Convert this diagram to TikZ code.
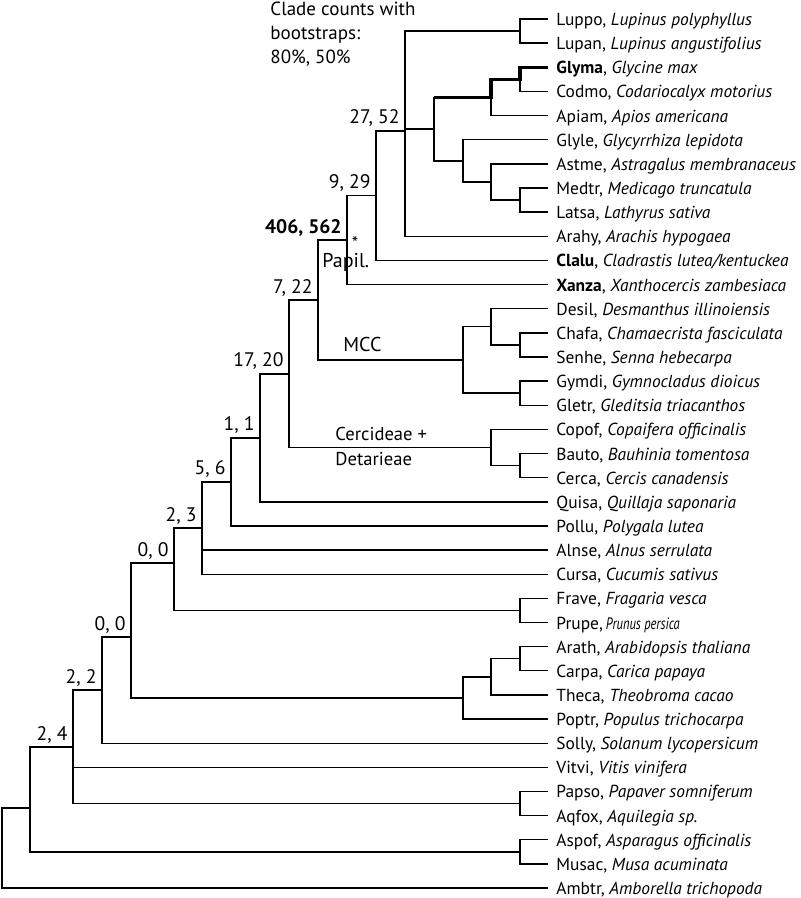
\documentclass[tikz,border=0pt]{standalone}
\usepackage{fontspec}
\setmainfont{PT Sans}
\tikzset{
  branch/.style={line width=0.7pt},
  hilite/.style={line width=1.6pt},
  leaf/.style={anchor=west,inner xsep=4pt,inner ysep=0pt,
    text height=6.5pt,text depth=0pt,font=\fontsize{8.7}{10}\selectfont},
  count/.style={anchor=base east,inner sep=0pt,font=\fontsize{9.8}{11}\selectfont},
  cladename/.style={anchor=base west,inner sep=0pt,font=\fontsize{10}{12}\selectfont},
}

\begin{document}
\begin{tikzpicture}[x=0.5pt,y=-0.5pt]
\useasboundingbox (0,0) rectangle (800,898);

\node[anchor=north west,inner sep=0pt,align=left,font=\fontsize{9.5}{12}\selectfont]
  (legend) at (270,2) {Clade counts with\\bootstraps:\\80\%, 50\%};

\foreach \n/\i/\t in {
  luppo/0/{Luppo, \textit{Lupinus polyphyllus}},
  lupan/1/{Lupan, \textit{Lupinus angustifolius}},
  glyma/2/{\textbf{Glyma}, \textit{Glycine max}},
  codmo/3/{Codmo, \textit{Codariocalyx motorius}},
  apiam/4/{Apiam, \textit{Apios americana}},
  glyle/5/{Glyle, \textit{Glycyrrhiza lepidota}},
  astme/6/{Astme, \textit{Astragalus membranaceus}},
  medtr/7/{Medtr, \textit{Medicago truncatula}},
  latsa/8/{Latsa, \textit{Lathyrus sativa}},
  arahy/9/{Arahy, \textit{Arachis hypogaea}},
  clalu/10/{\textbf{Clalu}, \textit{Cladrastis lutea/kentuckea}},
  xanza/11/{\textbf{Xanza}, \textit{Xanthocercis zambesiaca}},
  desil/12/{Desil, \textit{Desmanthus illinoiensis}},
  chafa/13/{Chafa, \textit{Chamaecrista fasciculata}},
  senhe/14/{Senhe, \textit{Senna hebecarpa}},
  gymdi/15/{Gymdi, \textit{Gymnocladus dioicus}},
  gletr/16/{Gletr, \textit{Gleditsia triacanthos}},
  copof/17/{Copof, \textit{Copaifera officinalis}},
  bauto/18/{Bauto, \textit{Bauhinia tomentosa}},
  cerca/19/{Cerca, \textit{Cercis canadensis}},
  quisa/20/{Quisa, \textit{Quillaja saponaria}},
  pollu/21/{Pollu, \textit{Polygala lutea}},
  alnse/22/{Alnse, \textit{Alnus serrulata}},
  cursa/23/{Cursa, \textit{Cucumis sativus}},
  frave/24/{Frave, \textit{Fragaria vesca}},
  prupe/25/{Prupe,\,\scalebox{0.72}[0.95]{\textit{Prunus persica}}},
  arath/26/{Arath, \textit{Arabidopsis thaliana}},
  carpa/27/{Carpa, \textit{Carica papaya}},
  theca/28/{Theca, \textit{Theobroma cacao}},
  poptr/29/{Poptr, \textit{Populus trichocarpa}},
  solly/30/{Solly, \textit{Solanum lycopersicum}},
  vitvi/31/{Vitvi, \textit{Vitis vinifera}},
  papso/32/{Papso, \textit{Papaver somniferum}},
  aqfox/33/{Aqfox, \textit{Aquilegia sp.}},
  aspof/34/{Aspof, \textit{Asparagus officinalis}},
  musac/35/{Musac, \textit{Musa acuminata}},
  ambtr/36/{Ambtr, \textit{Amborella trichopoda}}}
  \node[leaf] (\n) at (548,{19+24.14*\i}) {\t};

\coordinate (lupin) at (520,31.07);
\coordinate (glycod) at (520,79.35);
\coordinate (glycodap) at (491,97.46);
\coordinate (medlat) at (520,200.05);
\coordinate (astml) at (491,181.95);
\coordinate (glyleg) at (463,160.82);
\coordinate (core) at (434,129.14);
\coordinate (n2752) at (405,131);
\coordinate (n929) at (376,195.7);
\coordinate (papil) at (347,240.1);
\coordinate (chase) at (520,344.89);
\coordinate (desch) at (491,326.79);
\coordinate (gymgle) at (520,393.17);
\coordinate (mcc) at (463,359.98);
\coordinate (n722) at (318,300);
\coordinate (baucer) at (520,465.59);
\coordinate (cerdet) at (491,447.49);
\coordinate (n1720) at (289,373.8);
\coordinate (n11) at (260,437.8);
\coordinate (n56) at (231,481.9);
\coordinate (n23) at (202,528);
\coordinate (frapru) at (520,610.43);
\coordinate (n00a) at (174,563);
\coordinate (aracar) at (520,658.71);
\coordinate (arathe) at (491,676.82);
\coordinate (rosmal) at (463,697.94);
\coordinate (n00b) at (131,637);
\coordinate (n22) at (102,690);
\coordinate (papaqf) at (520,803.55);
\coordinate (n24) at (73,747);
\coordinate (aspmus) at (520,851.83);
\coordinate (n30) at (30,808);
\coordinate (root) at (2,848);

\foreach \p/\c in {lupin/luppo,lupin/lupan,glycod/codmo,glycodap/apiam,
    glyleg/glyle,astml/astme,medlat/medtr,medlat/latsa,n2752/arahy,
    n929/clalu,papil/xanza,desch/desil,chase/chafa,chase/senhe,
    gymgle/gymdi,gymgle/gletr,cerdet/copof,baucer/bauto,baucer/cerca,
    n11/quisa,n56/pollu,n23/alnse,n23/cursa,frapru/frave,frapru/prupe,
    aracar/arath,aracar/carpa,arathe/theca,rosmal/poptr,n22/solly,
    n24/vitvi,papaqf/papso,papaqf/aqfox,aspmus/aspof,aspmus/musac,
    root/ambtr}
  \draw[branch] (\p) |- (\c.west);
\foreach \p/\c in {core/glycodap,astml/medlat,glyleg/astml,core/glyleg,
    n2752/lupin,n2752/core,n929/n2752,papil/n929,desch/chase,mcc/desch,
    mcc/gymgle,n722/papil,n722/mcc,cerdet/baucer,n1720/n722,n1720/cerdet,
    n11/n1720,n56/n11,n23/n56,n00a/n23,n00a/frapru,arathe/aracar,
    rosmal/arathe,n00b/n00a,n00b/rosmal,n22/n00b,n24/n22,n24/papaqf,
    n30/n24,n30/aspmus,root/n30}
  \draw[branch] (\p) |- (\c);
\draw[hilite] (core |- glycodap) -- (glycodap) |- (glycod) |- (glyma.west);

\foreach \n/\t in {n2752/{27, 52},n929/{9, 29},papil/{\textbf{406, 562}},
    n722/{7, 22},n1720/{17, 20},n11/{1, 1},n56/{5, 6},n23/{2, 3},
    n00a/{0, 0},n00b/{0, 0},n22/{2, 2},n24/{2, 4}}
  \node[count] (l\n) at ([shift={(-5,-7)}]\n) {\t};

\node[cladename,anchor=base,font=\fontsize{9}{11}\selectfont] (star) at (355,250) {*};
\node[cladename] (papname) at (322,268) {Papil.};
\node[cladename] (mccname) at (343,351) {MCC};
\node[anchor=north west,inner sep=0pt,align=left,font=\fontsize{9.3}{12.5}\selectfont]
  (cername) at (335,427) {Cercideae +\\Detarieae};
\end{tikzpicture}
\end{document}
